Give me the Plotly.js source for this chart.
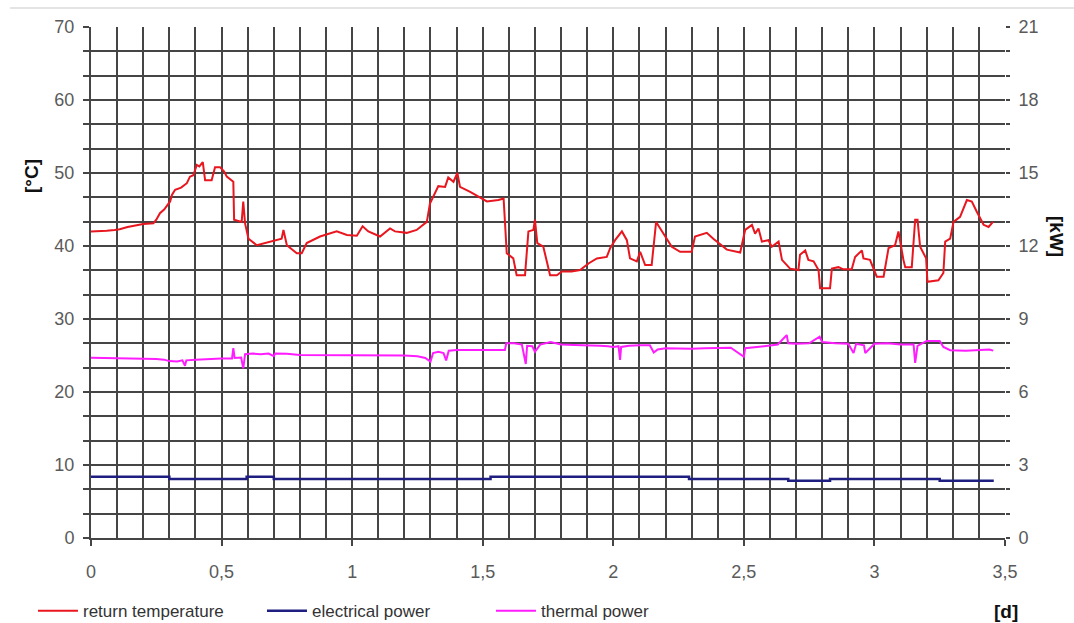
<!DOCTYPE html>
<html>
<head>
<meta charset="utf-8">
<script src="https://cdn.plot.ly/plotly-3.0.1.min.js"></script>
<style>html,body{margin:0;padding:0;background:#fff;}#chart{width:1074px;height:623px;}</style>
</head>
<body>
<div id="chart"></div>
<script>
// Return temperature [°C] (left axis)
const tempDays = [0.00,0.03,0.06,0.09,0.11,0.14,0.17,0.20,0.239,0.25,0.264,0.28,0.303,0.31,0.322,0.345,0.367,0.379,0.392,0.405,0.415,0.428,0.437,0.462,0.475,0.494,0.51,0.52,0.545,0.548,0.577,0.583,0.59,0.603,0.635,0.686,0.73,0.737,0.75,0.788,0.807,0.826,0.877,0.941,0.98,1.018,1.04,1.062,1.107,1.145,1.164,1.209,1.247,1.286,1.298,1.33,1.356,1.368,1.388,1.403,1.413,1.452,1.483,1.516,1.56,1.58,1.592,1.617,1.63,1.662,1.675,1.694,1.70,1.709,1.732,1.758,1.784,1.803,1.84,1.873,1.905,1.937,1.975,1.988,2.007,2.033,2.052,2.064,2.09,2.103,2.122,2.147,2.164,2.192,2.224,2.256,2.30,2.313,2.358,2.383,2.435,2.486,2.505,2.531,2.543,2.556,2.569,2.594,2.607,2.633,2.646,2.677,2.709,2.715,2.735,2.747,2.767,2.786,2.792,2.83,2.837,2.862,2.881,2.913,2.926,2.952,2.958,2.983,3.009,3.035,3.054,3.079,3.092,3.111,3.118,3.143,3.156,3.165,3.175,3.198,3.203,3.245,3.264,3.271,3.29,3.303,3.328,3.354,3.373,3.392,3.418,3.437,3.454];
const returnTemperature = [42.0,42.0,42.1,42.2,42.3,42.6,42.8,43.0,43.1,43.6,44.5,45.0,46.1,47.0,47.7,48.0,48.6,49.5,49.7,51.1,50.9,51.5,49.0,49.0,50.8,50.8,50.2,49.5,48.8,43.6,43.3,46.1,43.1,41.0,40.1,40.6,41.0,42.2,40.1,39.0,39.0,40.4,41.3,42.0,41.5,41.4,42.7,42.0,41.3,42.4,42.0,41.8,42.2,43.3,45.8,48.2,48.1,49.4,48.8,50.0,48.1,47.4,46.8,46.1,46.3,46.5,39.0,38.3,36.0,36.0,42.0,42.2,43.6,40.4,39.9,36.0,36.0,36.5,36.5,36.7,37.6,38.3,38.5,39.7,40.8,42.0,40.8,38.3,37.9,39.2,37.4,37.4,43.3,41.7,39.9,39.2,39.2,41.3,41.8,41.0,39.5,39.1,42.2,42.9,41.7,42.4,40.6,40.8,39.9,40.6,38.1,36.9,36.7,38.8,39.4,38.1,37.9,36.7,34.2,34.2,36.9,37.1,36.8,36.8,38.5,39.4,38.3,38.1,35.8,35.8,39.7,40.1,42.0,38.1,37.1,37.1,43.6,43.6,39.9,38.3,35.1,35.3,36.3,40.6,41.0,43.3,44.0,46.3,46.1,44.7,42.9,42.6,43.3];

// Electrical power [kW] (right axis), step levels
const elecDays = [0,0.30,0.596,0.70,1.53,2.29,2.67,2.83,3.25,3.457];
const electricalPower = [2.52,2.42,2.52,2.42,2.52,2.42,2.35,2.42,2.35,2.35];

// Thermal power [kW] (right axis)
const thermDays = [0,0.05,0.10,0.15,0.20,0.25,0.28,0.30,0.33,0.35,0.36,0.365,0.40,0.45,0.50,0.54,0.545,0.55,0.575,0.583,0.59,0.62,0.65,0.68,0.70,0.705,0.75,0.80,0.85,0.90,0.95,1.00,1.05,1.10,1.15,1.20,1.25,1.28,1.30,1.31,1.33,1.35,1.36,1.37,1.40,1.45,1.50,1.55,1.585,1.59,1.62,1.65,1.665,1.67,1.69,1.70,1.72,1.76,1.80,1.85,1.90,1.95,1.98,2.00,2.02,2.026,2.03,2.06,2.10,2.14,2.155,2.17,2.20,2.25,2.30,2.35,2.40,2.45,2.50,2.505,2.55,2.60,2.63,2.664,2.67,2.70,2.75,2.79,2.80,2.85,2.90,2.92,2.93,2.96,2.965,3.00,3.05,3.10,3.15,3.156,3.165,3.20,3.25,3.264,3.29,3.35,3.40,3.44,3.455];
const thermalPower = [7.41,7.40,7.39,7.38,7.38,7.36,7.33,7.27,7.25,7.30,7.08,7.30,7.33,7.36,7.38,7.38,7.80,7.40,7.42,6.97,7.55,7.58,7.55,7.58,7.47,7.58,7.57,7.52,7.52,7.50,7.53,7.50,7.52,7.50,7.52,7.50,7.47,7.40,7.25,7.60,7.65,7.60,7.30,7.70,7.73,7.73,7.75,7.73,7.73,8.00,8.00,7.95,7.15,7.90,7.88,7.65,7.95,8.05,7.95,7.93,7.93,7.90,7.88,7.85,7.88,7.32,7.85,7.90,7.92,7.92,7.62,7.75,7.80,7.78,7.78,7.80,7.82,7.82,7.45,7.80,7.85,7.90,7.95,8.34,8.00,7.98,8.00,8.27,8.05,8.00,7.98,7.60,7.98,7.92,7.60,7.98,8.00,7.95,7.95,7.20,7.90,8.10,8.10,7.85,7.72,7.70,7.72,7.75,7.70];

const xTickVals = [0,0.5,1,1.5,2,2.5,3,3.5];
const leftTickVals = [0,10,20,30,40,50,60,70];
const rightTickVals = [0,3,6,9,12,15,18,21];

const gridCol = '#454545';
const FONT = 'Liberation Sans, Arial, sans-serif';
const tickFont = {family: FONT, size: 18, color: '#5a5a5a'};
const titleFont = {family: FONT, size: 19, color: '#111', weight: 'bold'};

const traces = [
  {x: tempDays, y: returnTemperature, name: 'return temperature', type: 'scatter', mode: 'lines',
   line: {color: '#e8161e', width: 2}, yaxis: 'y'},
  {x: elecDays, y: electricalPower, name: 'electrical power', type: 'scatter', mode: 'lines',
   line: {color: '#1e1e80', width: 2.5, shape: 'hv'}, yaxis: 'y2'},
  {x: thermDays, y: thermalPower, name: 'thermal power', type: 'scatter', mode: 'lines',
   line: {color: '#ff1cff', width: 2}, yaxis: 'y2'}
];

const layout = {
  width: 1074, height: 623,
  margin: {l: 91, r: 69, t: 27, b: 85},
  paper_bgcolor: '#fff', plot_bgcolor: '#fff',
  separators: ',.',
  showlegend: true,
  legend: {orientation: 'h', xref: 'container', yref: 'container', x: 0.0307, y: 0.019, xanchor: 'left', yanchor: 'middle',
    font: {family: FONT, size: 17, color: '#333'}, entrywidth: 174, itemwidth: 40, bgcolor: 'rgba(0,0,0,0)'},
  xaxis: {range: [0, 3.5], tickvals: xTickVals, ticks: 'outside', ticklen: 6, tickwidth: 2, tickcolor: gridCol,
    showgrid: true, gridcolor: gridCol, gridwidth: 2, zeroline: false, showline: true, linecolor: gridCol, linewidth: 2,
    tickfont: tickFont, ticklabelstandoff: 10,
    minor: {dtick: 0.1, tick0: 0, showgrid: true, gridcolor: gridCol, gridwidth: 2, ticks: ''}},
  yaxis: {range: [0, 70], tickvals: leftTickVals, ticks: 'outside', ticklen: 6, tickwidth: 2, tickcolor: gridCol,
    showgrid: false, zeroline: false, showline: true, linecolor: gridCol, linewidth: 2,
    tickfont: tickFont, ticklabelstandoff: 5,
    minor: {dtick: 10/3, tick0: 0, ticks: 'outside', ticklen: 6, tickwidth: 2, tickcolor: gridCol, showgrid: false}},
  yaxis2: {range: [0, 21], tickvals: rightTickVals, overlaying: 'y', side: 'right', ticks: 'outside', ticklen: 4, tickwidth: 2, tickcolor: gridCol,
    showgrid: true, gridcolor: gridCol, gridwidth: 2, zeroline: false, showline: false,
    tickfont: tickFont, ticklabelstandoff: 5,
    minor: {dtick: 1, tick0: 0, showgrid: true, gridcolor: gridCol, gridwidth: 2, ticks: 'outside', ticklen: 4, tickwidth: 2, tickcolor: gridCol}},
  annotations: [
    {text: '[°C]', xref: 'paper', yref: 'paper', x: (31-91)/914, y: (538-176)/511, xanchor: 'center', yanchor: 'middle',
     showarrow: false, textangle: -90, font: titleFont},
    {text: '[kW]', xref: 'paper', yref: 'paper', x: (1057-91)/914, y: (538-236)/511, xanchor: 'center', yanchor: 'middle',
     showarrow: false, textangle: 90, font: titleFont},
    {text: '[d]', xref: 'paper', yref: 'paper', x: (1006-91)/914, y: (538-612)/511, xanchor: 'center', yanchor: 'middle',
     showarrow: false, font: titleFont}
  ],
  shapes: [
    {type: 'line', xref: 'paper', yref: 'paper', x0: (10-91)/914, x1: (1074-91)/914, y0: (538-8)/511, y1: (538-8)/511,
     line: {color: '#e4e4e4', width: 2}}
  ]
};

Plotly.newPlot('chart', traces, layout, {displayModeBar: false, staticPlot: true});
</script>
</body>
</html>
